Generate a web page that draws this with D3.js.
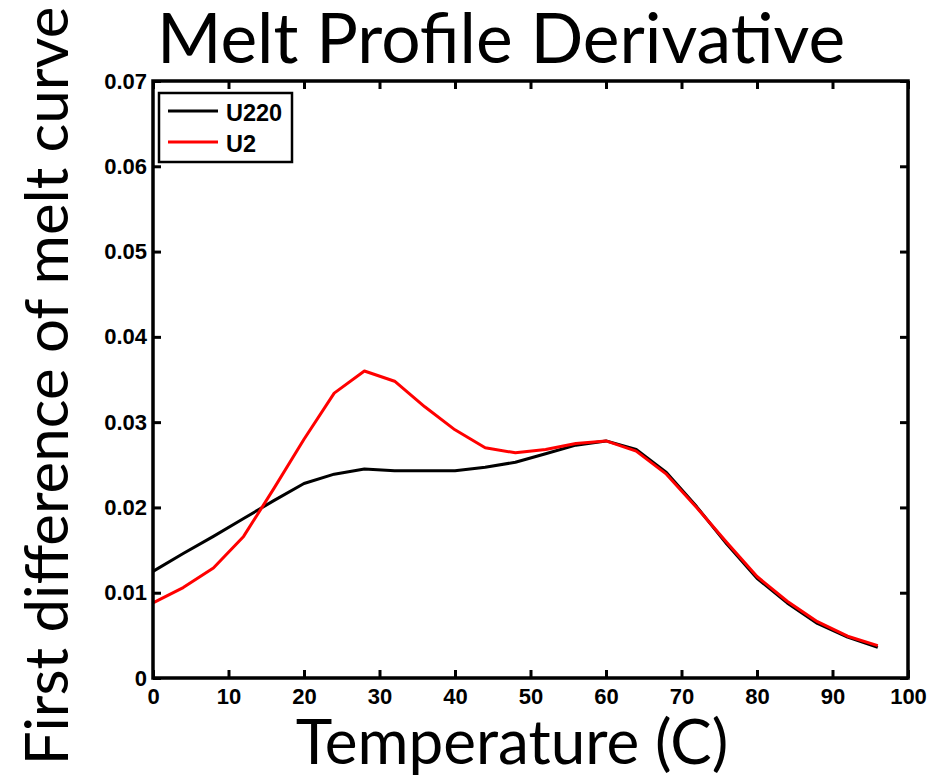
<!DOCTYPE html>
<html>
<head>
<meta charset="utf-8">
<script src="https://cdn.jsdelivr.net/npm/d3@7"></script>
<style>
  html, body { margin: 0; padding: 0; background: #fff; }
  svg { display: block; }
  .tick text { font-family: "Liberation Sans", Arial, sans-serif; font-weight: bold; font-size: 22px; fill: #000; }
</style>
</head>
<body>
<svg id="chart" width="941" height="783"></svg>
<script>
// Temperature samples (C) and first difference of each melt curve
const temps = [0, 4, 8, 12, 16, 20, 24, 28, 32, 36, 40, 44, 48, 52, 56, 60, 64, 68, 72, 76, 80, 84, 88, 92, 96];
const u220 = [0.0125, 0.0146, 0.0166, 0.0187, 0.0208, 0.0228, 0.0239, 0.0245, 0.0243, 0.0243, 0.0243, 0.0247, 0.0253, 0.0263, 0.0273, 0.0278, 0.0268, 0.0241, 0.0201, 0.0157, 0.0117, 0.0088, 0.0064, 0.0048, 0.0036];
const u2   = [0.0088, 0.0106, 0.0129, 0.0166, 0.0222, 0.0280, 0.0334, 0.0360, 0.0348, 0.0318, 0.0291, 0.0270, 0.0264, 0.0268, 0.0275, 0.0278, 0.0266, 0.0239, 0.0200, 0.0159, 0.0119, 0.0090, 0.0066, 0.0049, 0.0038];
const seriesNames = ["U220", "U2"];
const seriesColors = ["#000000", "#ff0000"];
const xTicks = [0, 10, 20, 30, 40, 50, 60, 70, 80, 90, 100];
const yTicks = [0, 0.01, 0.02, 0.03, 0.04, 0.05, 0.06, 0.07];
const yTickLabels = ["0", "0.01", "0.02", "0.03", "0.04", "0.05", "0.06", "0.07"];

const svg = d3.select("#chart");
const plot = { left: 153, right: 908, top: 81, bottom: 678 };

const x = d3.scaleLinear().domain([0, 100]).range([plot.left, plot.right]);
const y = d3.scaleLinear().domain([0, 0.07]).range([plot.bottom, plot.top]);

// Title and axis titles
const titleFont = "Lato, 'Open Sans', sans-serif";
svg.append("text")
  .attr("x", 501).attr("y", 63)
  .attr("text-anchor", "middle")
  .style("font-family", titleFont)
  .style("font-size", "69.5px")
  .text("Melt Profile Derivative");

svg.append("text")
  .attr("x", 512).attr("y", 764)
  .attr("text-anchor", "middle")
  .style("font-family", titleFont)
  .style("font-size", "62px")
  .text("Temperature (C)");

svg.append("text")
  .attr("transform", "translate(68,386) rotate(-90)")
  .attr("text-anchor", "middle")
  .style("font-family", titleFont)
  .style("font-size", "60px")
  .text("First difference of melt curve");

// Curves
const line = d3.line().x((d, i) => x(temps[i])).y(d => y(d));
[u220, u2].forEach((vals, k) => {
  svg.append("path")
    .datum(vals)
    .attr("d", line)
    .attr("fill", "none")
    .attr("stroke", seriesColors[k])
    .attr("stroke-width", 3)
    .attr("stroke-linejoin", "round");
});

// Axes with inward ticks, mirrored on top and right
const tickLen = 8;
const styleAxis = g => {
  g.select(".domain").remove();
  g.selectAll(".tick line").attr("stroke", "#000").attr("stroke-width", 3);
};

svg.append("g")
  .attr("transform", `translate(0,${plot.bottom})`)
  .call(d3.axisBottom(x).tickValues(xTicks).tickFormat(d3.format("d")).tickSizeInner(-tickLen).tickSizeOuter(0).tickPadding(10))
  .call(styleAxis);

svg.append("g")
  .attr("transform", `translate(0,${plot.top})`)
  .call(d3.axisTop(x).tickValues(xTicks).tickFormat("").tickSizeInner(-tickLen).tickSizeOuter(0))
  .call(styleAxis);

svg.append("g")
  .attr("transform", `translate(${plot.left},0)`)
  .call(d3.axisLeft(y).tickValues(yTicks).tickFormat((d, i) => yTickLabels[i]).tickSizeInner(-tickLen).tickSizeOuter(0).tickPadding(6))
  .call(styleAxis);

svg.append("g")
  .attr("transform", `translate(${plot.right},0)`)
  .call(d3.axisRight(y).tickValues(yTicks).tickFormat("").tickSizeInner(-tickLen).tickSizeOuter(0))
  .call(styleAxis);

// Frame
svg.append("rect")
  .attr("x", plot.left).attr("y", plot.top)
  .attr("width", plot.right - plot.left).attr("height", plot.bottom - plot.top)
  .attr("fill", "none").attr("stroke", "#000").attr("stroke-width", 3.5);

// Legend
const legend = svg.append("g").attr("transform", "translate(159,93)");
legend.append("rect")
  .attr("width", 133).attr("height", 69)
  .attr("fill", "#fff").attr("stroke", "#000").attr("stroke-width", 2.5);
seriesNames.forEach((name, k) => {
  const ly = 18 + k * 31;
  legend.append("line")
    .attr("x1", 9).attr("x2", 59).attr("y1", ly).attr("y2", ly)
    .attr("stroke", seriesColors[k]).attr("stroke-width", 3);
  legend.append("text")
    .attr("x", 67).attr("y", ly + 10)
    .style("font-family", "'Liberation Sans', Arial, sans-serif")
    .style("font-weight", "bold")
    .style("font-size", "23.5px")
    .text(name);
});
</script>
</body>
</html>
